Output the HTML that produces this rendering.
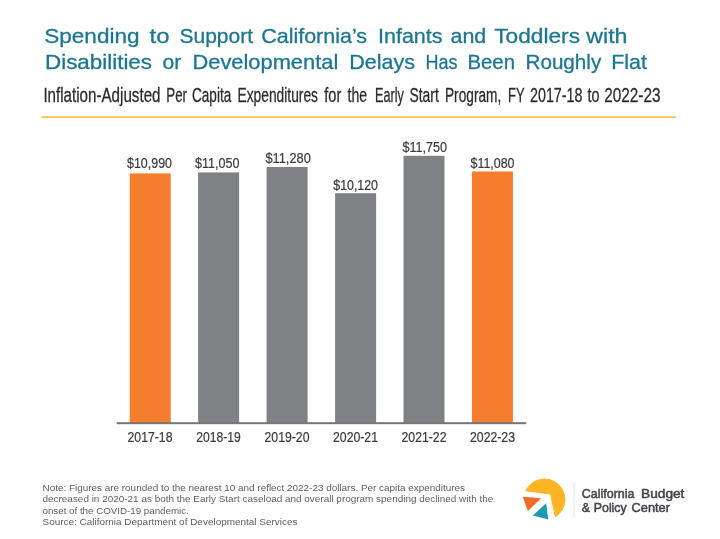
<!DOCTYPE html>
<html lang="en">
<head>
<meta charset="utf-8">
<title>Spending to Support California's Infants and Toddlers</title>
<style>
html,body{margin:0;padding:0;background:#fff;}
body{width:720px;height:539px;overflow:hidden;}
svg{display:block;}
text{font-family:"Liberation Sans",Arial,sans-serif;}
.title{font-size:20.9px;fill:#1b7691;stroke:#1b7691;stroke-width:.3px;}
.sub{font-size:19.3px;fill:#2b2b2b;stroke:#2b2b2b;stroke-width:.28px;}
.val{font-size:15.2px;fill:#3a3a3a;stroke:#3a3a3a;stroke-width:.22px;}
.tick{font-size:15.2px;fill:#3a3a3a;stroke:#3a3a3a;stroke-width:.22px;}
.note{font-size:9.6px;fill:#606060;}
.logo{font-size:12.4px;fill:#44444c;stroke:#44444c;stroke-width:.5px;}
</style>
</head>
<body>
<svg width="720" height="539" viewBox="0 0 720 539">
<defs><filter id="soft" x="0" y="0" width="720" height="539" filterUnits="userSpaceOnUse"><feGaussianBlur stdDeviation="0.55"/></filter></defs>
<rect x="0" y="0" width="720" height="539" fill="#ffffff"/>
<g filter="url(#soft)">

<!-- Title -->
<text class="title" y="43.0"><tspan x="44.25" textLength="95.25" lengthAdjust="spacingAndGlyphs">Spending</tspan> <tspan x="149.50" textLength="20.00" lengthAdjust="spacingAndGlyphs">to</tspan> <tspan x="179.50" textLength="73.50" lengthAdjust="spacingAndGlyphs">Support</tspan> <tspan x="261.25" textLength="105.75" lengthAdjust="spacingAndGlyphs">California’s</tspan> <tspan x="378.00" textLength="64.50" lengthAdjust="spacingAndGlyphs">Infants</tspan> <tspan x="450.50" textLength="35.75" lengthAdjust="spacingAndGlyphs">and</tspan> <tspan x="494.25" textLength="85.75" lengthAdjust="spacingAndGlyphs">Toddlers</tspan> <tspan x="586.25" textLength="41.25" lengthAdjust="spacingAndGlyphs">with</tspan></text>
<text class="title" y="69.4"><tspan x="45.00" textLength="107.00" lengthAdjust="spacingAndGlyphs">Disabilities</tspan> <tspan x="162.50" textLength="18.75" lengthAdjust="spacingAndGlyphs">or</tspan> <tspan x="192.50" textLength="145.75" lengthAdjust="spacingAndGlyphs">Developmental</tspan> <tspan x="349.25" textLength="65.75" lengthAdjust="spacingAndGlyphs">Delays</tspan> <tspan x="425.50" textLength="32.00" lengthAdjust="spacingAndGlyphs">Has</tspan> <tspan x="467.50" textLength="47.50" lengthAdjust="spacingAndGlyphs">Been</tspan> <tspan x="525.50" textLength="75.75" lengthAdjust="spacingAndGlyphs">Roughly</tspan> <tspan x="611.25" textLength="35.75" lengthAdjust="spacingAndGlyphs">Flat</tspan></text>
<!-- Subtitle -->
<text class="sub" y="101.6"><tspan x="43.40" textLength="117.10" lengthAdjust="spacingAndGlyphs">Inflation-Adjusted</tspan> <tspan x="166.25" textLength="20.75" lengthAdjust="spacingAndGlyphs">Per</tspan> <tspan x="192.00" textLength="39.25" lengthAdjust="spacingAndGlyphs">Capita</tspan> <tspan x="237.50" textLength="80.50" lengthAdjust="spacingAndGlyphs">Expenditures</tspan> <tspan x="324.25" textLength="17.00" lengthAdjust="spacingAndGlyphs">for</tspan> <tspan x="347.50" textLength="19.50" lengthAdjust="spacingAndGlyphs">the</tspan> <tspan x="375.00" textLength="28.75" lengthAdjust="spacingAndGlyphs">Early</tspan> <tspan x="409.50" textLength="29.25" lengthAdjust="spacingAndGlyphs">Start</tspan> <tspan x="445.00" textLength="56.25" lengthAdjust="spacingAndGlyphs">Program,</tspan> <tspan x="508.00" textLength="16.25" lengthAdjust="spacingAndGlyphs">FY</tspan> <tspan x="530.00" textLength="52.50" lengthAdjust="spacingAndGlyphs">2017-18</tspan> <tspan x="587.50" textLength="12.00" lengthAdjust="spacingAndGlyphs">to</tspan> <tspan x="604.25" textLength="56.25" lengthAdjust="spacingAndGlyphs">2022-23</tspan></text>
<!-- Rule -->
<rect x="41.5" y="116.3" width="634.5" height="1.8" fill="#f7be50"/>
<!-- Bars -->
<rect x="129.7" y="173.4" width="41" height="249.6" fill="#f47d2f"/>
<rect x="198.1" y="172.4" width="41" height="250.6" fill="#808184"/>
<rect x="266.6" y="167" width="41" height="256.0" fill="#808184"/>
<rect x="335.1" y="193.2" width="41" height="229.8" fill="#808184"/>
<rect x="403.5" y="155.8" width="41" height="267.2" fill="#808184"/>
<rect x="471.9" y="171.5" width="41" height="251.5" fill="#f47d2f"/>
<!-- Axis -->
<rect x="116.7" y="422.2" width="409.6" height="2" fill="#75767a"/>
<!-- Value labels -->
<text class="val" x="127" y="168.2" textLength="45.00" lengthAdjust="spacingAndGlyphs">$10,990</text>
<text class="val" x="195" y="168" textLength="44.50" lengthAdjust="spacingAndGlyphs">$11,050</text>
<text class="val" x="265.5" y="163.2" textLength="45.25" lengthAdjust="spacingAndGlyphs">$11,280</text>
<text class="val" x="333.25" y="190" textLength="44.75" lengthAdjust="spacingAndGlyphs">$10,120</text>
<text class="val" x="402.5" y="152" textLength="44.50" lengthAdjust="spacingAndGlyphs">$11,750</text>
<text class="val" x="470.5" y="167.5" textLength="44.00" lengthAdjust="spacingAndGlyphs">$11,080</text>
<!-- Tick labels -->
<text class="tick" x="127.5" y="441.8" textLength="45.00" lengthAdjust="spacingAndGlyphs">2017-18</text>
<text class="tick" x="196.25" y="441.8" textLength="44.50" lengthAdjust="spacingAndGlyphs">2018-19</text>
<text class="tick" x="264.5" y="441.8" textLength="45.00" lengthAdjust="spacingAndGlyphs">2019-20</text>
<text class="tick" x="333" y="441.8" textLength="45.00" lengthAdjust="spacingAndGlyphs">2020-21</text>
<text class="tick" x="401.5" y="441.8" textLength="45.00" lengthAdjust="spacingAndGlyphs">2021-22</text>
<text class="tick" x="470" y="441.8" textLength="45.00" lengthAdjust="spacingAndGlyphs">2022-23</text>
<!-- Footnote -->
<text class="note" x="42.5" y="490.7" textLength="422.50" lengthAdjust="spacingAndGlyphs">Note: Figures are rounded to the nearest 10 and reflect 2022-23 dollars. Per capita expenditures</text>
<text class="note" x="42.5" y="502.2" textLength="450.75" lengthAdjust="spacingAndGlyphs">decreased in 2020-21 as both the Early Start caseload and overall program spending declined with the</text>
<text class="note" x="42.5" y="513.6" textLength="146.25" lengthAdjust="spacingAndGlyphs">onset of the COVID-19 pandemic.</text>
<text class="note" x="42.5" y="525" textLength="255.00" lengthAdjust="spacingAndGlyphs">Source: California Department of Developmental Services</text>
<!-- Logo -->
<g id="logo">
  <path d="M525.87 490.73 A20.5 20.5 0 1 1 555.38 516.81 L550.6 494 Z" fill="#fdb525" stroke="#fdb525" stroke-width="1" stroke-linejoin="round"/>
  <path d="M522.8 496.7 L541.1 498.3 L527.8 511.1 Z" fill="#f26a28"/>
  <path d="M546.1 503.3 L548.3 519.4 L532.8 515.6 Z" fill="#1f9bb0"/>
</g>
<rect x="573.4" y="482" width="1" height="36" fill="#e4e5e8"/>
<text class="logo" y="497.5"><tspan x="581.80" textLength="52.60" lengthAdjust="spacingAndGlyphs">California</tspan> <tspan x="641.10" textLength="43.30" lengthAdjust="spacingAndGlyphs">Budget</tspan></text>
<text class="logo" y="512.4"><tspan x="581.80" textLength="8.20" lengthAdjust="spacingAndGlyphs">&amp;</tspan> <tspan x="593.80" textLength="32.90" lengthAdjust="spacingAndGlyphs">Policy</tspan> <tspan x="631.60" textLength="38.40" lengthAdjust="spacingAndGlyphs">Center</tspan></text>
</g>
</svg>
</body>
</html>
